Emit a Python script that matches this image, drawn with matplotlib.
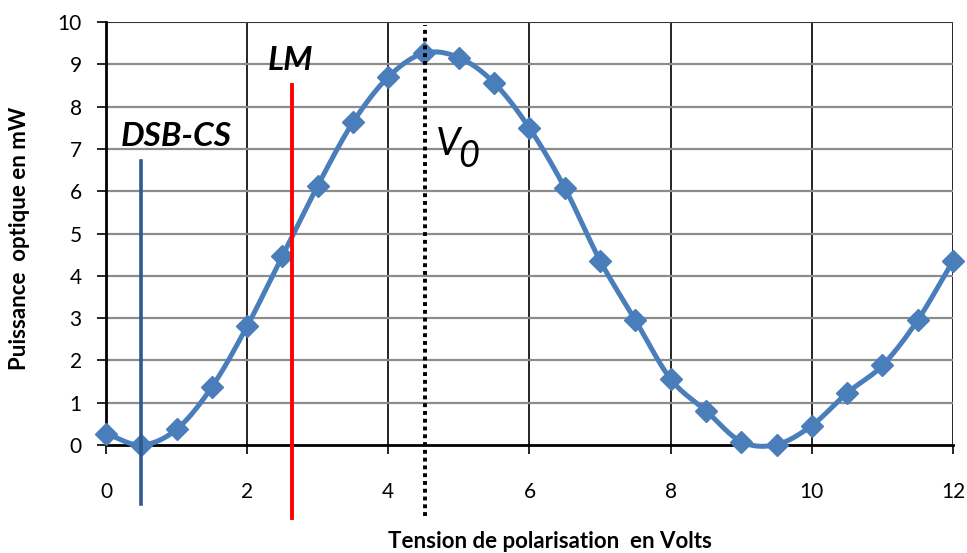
import numpy as np
import matplotlib.pyplot as plt

# Optical power vs bias voltage (measured every 0.5 V)
tension = [0, 0.5, 1, 1.5, 2, 2.5, 3, 3.5, 4, 4.5, 5, 5.5, 6, 6.5, 7, 7.5,
           8, 8.5, 9, 9.5, 10, 10.5, 11, 11.5, 12]
puissance = [0.27, 0.0, 0.37, 1.37, 2.81, 4.47, 6.13, 7.63, 8.70, 9.26, 9.16,
             8.56, 7.49, 6.08, 4.36, 2.95, 1.56, 0.81, 0.08, 0.01, 0.46, 1.23,
             1.88, 2.95, 4.35]

# operating points marked on the curve
v_dsb, v_lm, v_0 = 0.5, 2.64, 4.52
xticks = [0, 2, 4, 6, 8, 10, 12]
yticks = list(range(0, 11))


def smooth(x, y, n=20):
    # Catmull-Rom spline through the points (like a spreadsheet "smoothed line")
    x = np.asarray(x, float)
    y = np.asarray(y, float)
    px = np.concatenate([[2 * x[0] - x[1]], x, [2 * x[-1] - x[-2]]])
    py = np.concatenate([[2 * y[0] - y[1]], y, [2 * y[-1] - y[-2]]])
    xs, ys = [], []
    t = np.linspace(0, 1, n, endpoint=False)
    for i in range(1, len(px) - 2):
        for p, out in ((px, xs), (py, ys)):
            p0, p1, p2, p3 = p[i - 1], p[i], p[i + 1], p[i + 2]
            out.extend(0.5 * (2 * p1 + (-p0 + p2) * t
                              + (2 * p0 - 5 * p1 + 4 * p2 - p3) * t ** 2
                              + (-p0 + 3 * p1 - 3 * p2 + p3) * t ** 3))
    xs.append(x[-1])
    ys.append(y[-1])
    return np.array(xs), np.array(ys)


plt.rcParams['font.family'] = ['Lato', 'DejaVu Sans']

fig = plt.figure(figsize=(9.67, 5.53), dpi=100)
ax = fig.add_axes([0.1096, 0.1953, 0.8759, 0.7649])

ax.set_xlim(0, 12)
ax.set_ylim(0, 10)
ax.set_xticks(xticks)
ax.set_yticks(yticks)
ax.tick_params(labelsize=15, length=6.5, width=1.2, direction='out')
ax.tick_params(axis='x', pad=20)
ax.tick_params(axis='y', pad=11)

# grid: black verticals, grey horizontals
for xv in xticks[1:]:
    ax.axvline(xv, color='black', lw=1.2, zorder=1)
for yv in yticks[1:]:
    ax.axhline(yv, color='#8c8c8c', lw=1.6, zorder=1)
ax.axhline(10, color='#333333', lw=1.4, zorder=1)

for s in ['top', 'right']:
    ax.spines[s].set_visible(False)
for s in ['left', 'bottom']:
    ax.spines[s].set_linewidth(2.0)
    ax.spines[s].set_zorder(2)

xs, ys = smooth(tension, puissance)
ax.plot(xs, ys, color='#4a7ebb', lw=3.6, zorder=3, solid_capstyle='round',
        clip_on=False)
ax.plot(tension, puissance, 'D', color='#4a7ebb', markersize=11, zorder=4,
        clip_on=False)

# marker lines, allowed to go under the axis
ax.plot([v_dsb, v_dsb], [-1.40, 6.71], color='#2e5a8e', lw=2.6,
        clip_on=False, zorder=5)
ax.plot([v_lm, v_lm], [-1.72, 8.51], color='#ff0000', lw=2.8,
        clip_on=False, zorder=5)
ax.plot([v_0, v_0], [-1.68, 9.93], color='black', lw=2.8, ls=(0, (1, 1)),
        clip_on=False, zorder=5)

ax.text(0.99, 7.30, 'DSB-CS', fontsize=24, fontweight='bold', style='italic',
        ha='center', va='center', zorder=6)
ax.text(2.61, 9.08, 'LM', fontsize=24, fontweight='bold', style='italic',
        ha='center', va='center', zorder=6)
# V with a lowered 0
ax.text(4.68, 6.85, 'V', fontsize=28, style='italic', ha='left',
        va='baseline', zorder=6)
ax.text(4.99, 6.57, '0', fontsize=26, style='italic', ha='left',
        va='baseline', zorder=6)

fig.text(550 / 967, 1 - 541 / 553, 'Tension de polarisation  en Volts',
         fontsize=16, fontweight='bold', ha='center', va='center')
fig.text(20 / 967, 1 - 238 / 553, 'Puissance  optique en mW', fontsize=16,
         fontweight='bold', ha='center', va='center', rotation=90)

plt.savefig('out.png', dpi=100)
